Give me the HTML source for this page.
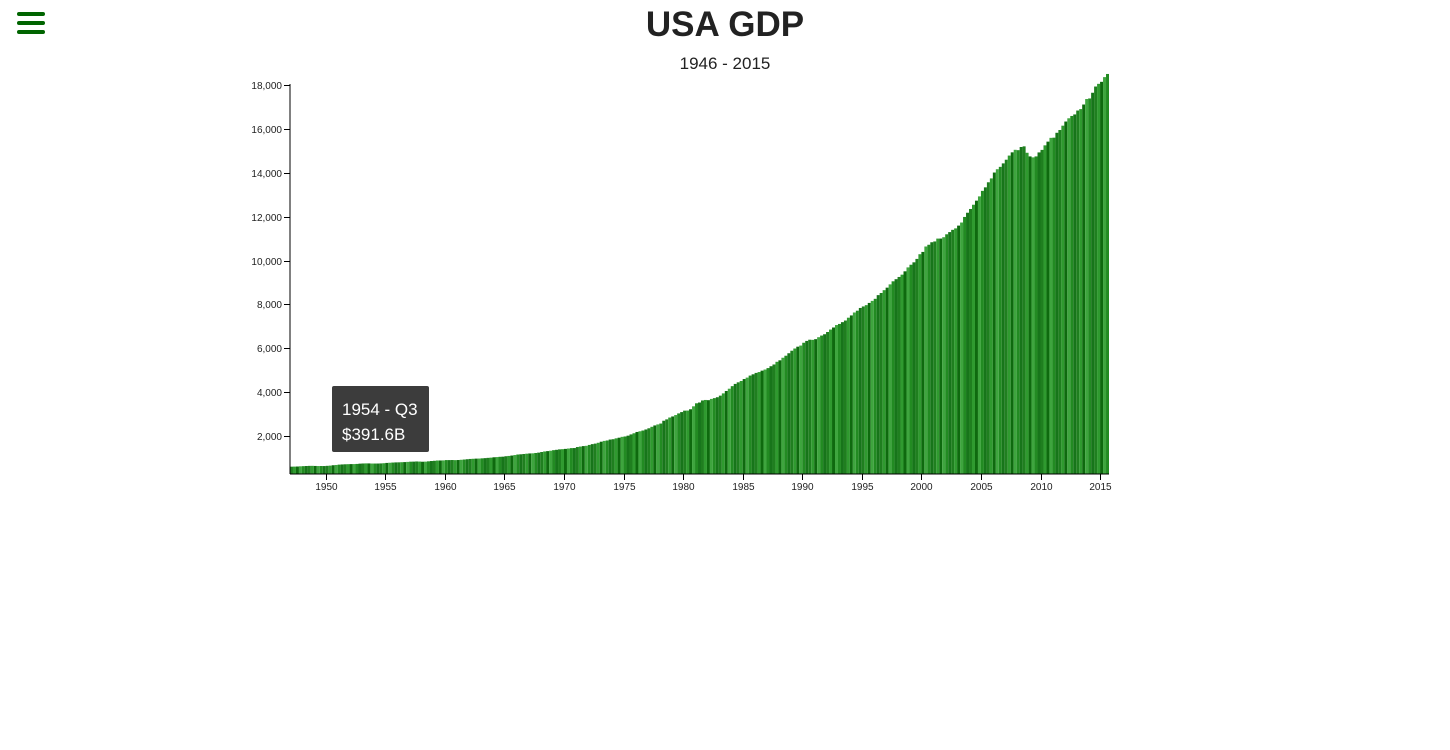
<!DOCTYPE html>
<html><head><meta charset="utf-8">
<style>
body{margin:0;width:1450px;height:750px;background:#fff;overflow:hidden;font-family:"Liberation Sans",sans-serif;position:relative}
#title{position:absolute;left:0;width:1450px;top:5px;text-align:center;font-size:35px;color:#222;font-weight:bold}
#sub{position:absolute;left:0;width:1450px;top:54px;text-align:center;font-size:17px;color:#222}
.bar{position:absolute;left:17px;width:28px;height:4px;border-radius:2px;background:#006400}
#tip{position:absolute;left:332px;top:386px;width:97px;height:66px;background:#3c3c3c;border-radius:2px;color:#fff;font-size:17px;box-sizing:border-box;padding:11px 0 0 10px;line-height:25px}
svg{position:absolute;left:0;top:0}
</style></head><body>
<div>
<div class="bar" style="top:12px"></div>
<div class="bar" style="top:21px"></div>
<div class="bar" style="top:30px"></div>
</div>
<div id="title">USA GDP</div>
<div id="sub">1946 - 2015</div>
<svg id="chart" width="1450" height="750"></svg>
<div id="tip">1954 - Q3<br>$391.6B</div>
<script>
const startYear = 1947;
const gdpValues = [
243.1,246.3,250.1,260.3, 266.2,272.9,279.5,280.7, 275.4,271.7,273.3,271.0,
281.2,290.7,308.5,320.3, 336.4,344.5,351.8,356.6, 360.2,361.4,368.1,381.2,
388.5,392.3,391.7,386.5, 385.9,386.7,391.6,400.3, 413.8,422.2,430.9,437.8,
440.5,446.8,452.0,461.3, 470.6,472.8,480.3,475.7, 468.4,472.8,486.7,500.4,
511.1,524.2,525.2,529.3, 543.3,542.7,546.0,541.1, 545.9,557.4,568.2,581.6,
595.2,602.6,609.6,613.1, 622.7,631.8,645.0,654.8, 671.1,680.8,692.8,698.4,
719.2,732.4,750.2,773.1, 797.3,807.2,820.8,834.9, 846.0,851.1,866.6,883.2,
911.1,936.3,952.3,970.1, 995.4,1011.4,1032.0,1040.7, 1053.5,1070.1,1088.5,1091.5,
1137.8,1159.4,1180.3,1193.6, 1233.8,1270.1,1293.8,1332.0, 1380.7,1417.6,1436.8,1479.1,
1494.7,1534.2,1563.4,1603.0, 1619.6,1656.4,1713.8,1765.9, 1824.5,1856.9,1890.5,1938.4,
1992.5,2060.2,2122.4,2168.7, 2208.7,2336.6,2398.9,2482.2, 2531.6,2595.9,2670.4,2730.7,
2796.5,2799.9,2860.0,2993.5, 3131.8,3167.3,3261.2,3283.5, 3273.8,3331.3,3367.1,3407.8,
3480.3,3583.8,3692.3,3796.1, 3912.8,4015.0,4087.4,4147.6, 4237.0,4302.3,4394.6,4453.1,
4516.3,4555.2,4619.6,4669.4, 4736.2,4821.5,4900.5,5022.7, 5090.6,5207.7,5299.5,5412.7,
5527.4,5628.4,5711.6,5763.4, 5890.8,5974.7,6029.5,6023.3, 6054.9,6143.6,6218.4,6279.3,
6380.8,6492.3,6586.5,6697.6, 6748.2,6829.6,6904.2,7032.8, 7136.3,7269.8,7352.3,7476.7,
7545.3,7604.9,7706.5,7799.5, 7893.1,8061.5,8159.0,8287.1, 8402.1,8551.9,8691.8,8788.3,
8889.7,8994.7,9146.5,9325.7, 9447.1,9557.0,9712.3,9926.1, 10031.0,10278.3,10357.4,10472.3,
10508.1,10638.4,10639.5,10701.3, 10834.4,10934.8,11037.1,11103.8, 11230.1,11370.7,11625.1,11816.8,
11988.4,12181.4,12367.7,12562.2, 12813.7,12974.1,13205.4,13381.6, 13648.9,13799.8,13908.5,14066.4,
14233.2,14422.3,14569.7,14685.3, 14668.4,14813.0,14843.0,14549.9, 14383.9,14340.4,14384.1,14566.5,
14681.1,14888.6,15057.7,15230.2, 15238.4,15460.9,15587.1,15785.3, 15973.9,16121.9,16227.9,16297.3,
16475.4,16541.4,16749.3,16999.9, 17025.2,17285.6,17569.4,17692.2, 17783.6,17998.3,18141.9
];
const yTicks = [2000,4000,6000,8000,10000,12000,14000,16000,18000];
const xTicks = [1950,1955,1960,1965,1970,1975,1980,1985,1990,1995,2000,2005,2010,2015];

const NS='http://www.w3.org/2000/svg';
const svg=document.getElementById('chart');
const X0=290, X1=1109, YB=474;
const bw=(X1-X0)/gdpValues.length;
function xScale(year){return X0+(year-startYear)*4*bw;}
function yScale(v){return 480-v*0.02194;}
const shades=['#1f7f1f','#2f9a2f','#0e6a0e','#3ea53e','#228b22','#17751a'];
function mk(tag,attrs){const e=document.createElementNS(NS,tag);for(const k in attrs)e.setAttribute(k,attrs[k]);svg.appendChild(e);return e;}
gdpValues.forEach((v,i)=>{
  const top=yScale(v)-8;
  const r=mk('rect',{x:X0+i*bw,y:top,width:bw,height:YB-top,fill:shades[i%shades.length]});
  
  
});
const ya=mk('line',{x1:X0,y1:84,x2:X0,y2:YB,stroke:'#000'});


const xa=mk('line',{x1:X0,y1:YB,x2:X1,y2:YB,stroke:'#000'});


yTicks.forEach(t=>{
  const y=Math.round(yScale(t))+0.5;
  mk('line',{x1:X0-6,y1:y,x2:X0,y2:y,stroke:'#000'});
  const tx=mk('text',{x:X0-8,y:y+3.5,'text-anchor':'end','font-size':10,fill:'#222'});
  tx.textContent=t.toLocaleString('en-US');
  
  
});
xTicks.forEach(t=>{
  const x=Math.round(xScale(t))+0.5;
  mk('line',{x1:x,y1:YB,x2:x,y2:YB+6,stroke:'#000'});
  const tx=mk('text',{x:x,y:YB+16,'text-anchor':'middle','font-size':10,fill:'#222'});
  tx.textContent=t;
  
  
});
</script>
</body></html>
